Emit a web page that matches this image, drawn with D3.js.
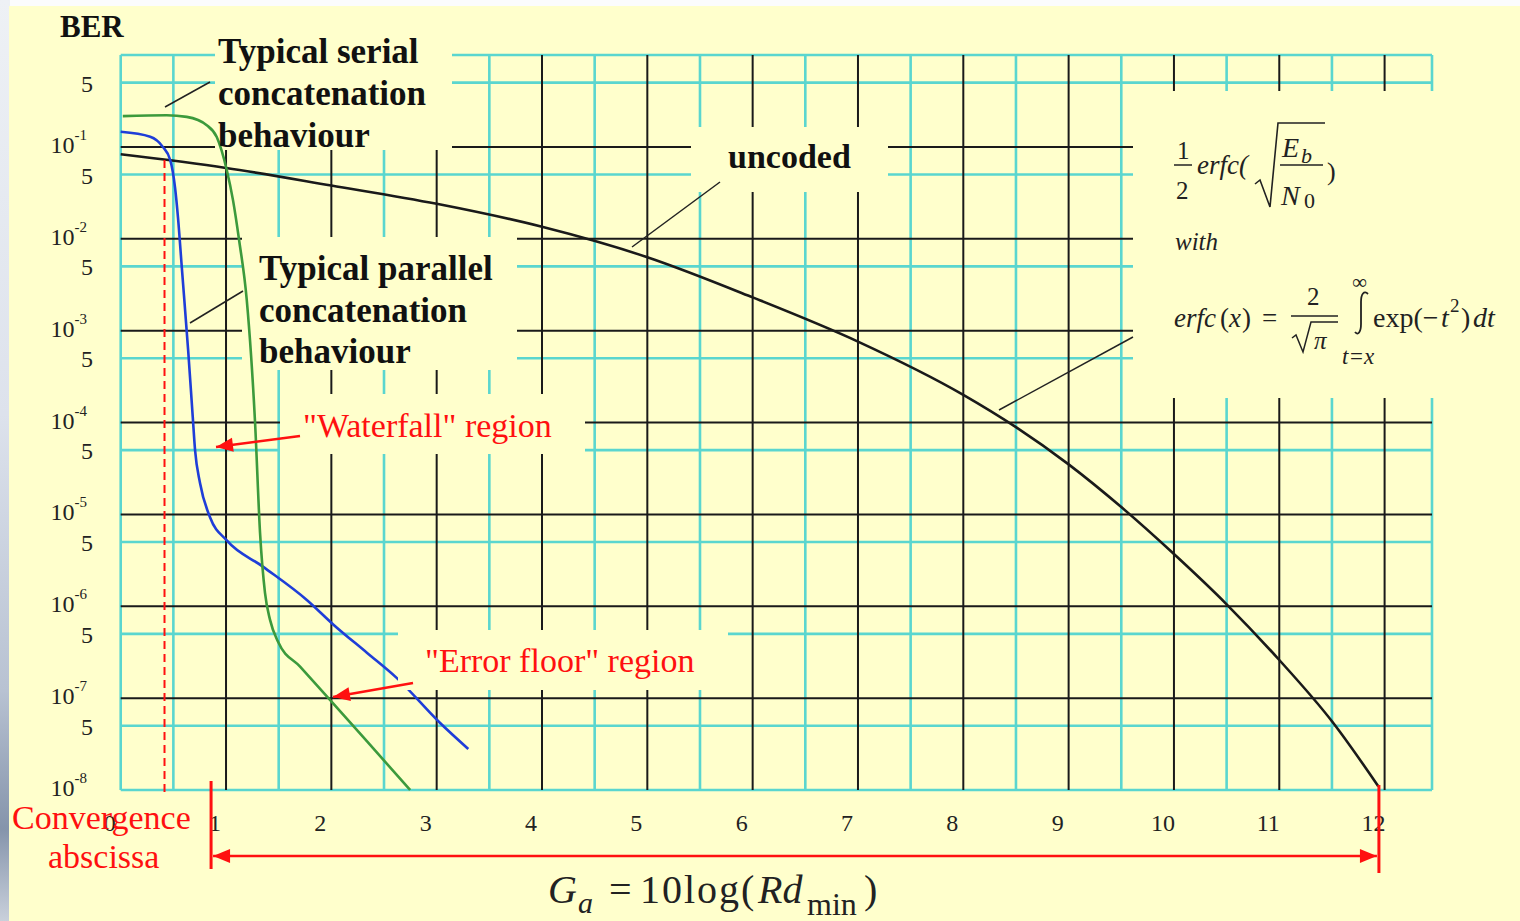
<!DOCTYPE html>
<html lang="en">
<head>
<meta charset="utf-8">
<title>BER concatenated codes</title>
<script src="https://d3js.org/d3.v7.min.js"></script>
<style>
  body { margin: 0; background: #fff; }
  text { font-family: "Liberation Serif", "Times New Roman", serif; }
</style>
</head>
<body>
<script>
// ---- data ----
var xTicks = [0, 1, 2, 3, 4, 5, 6, 7, 8, 9, 10, 11, 12];
var decades = [-8, -7, -6, -5, -4, -3, -2, -1];

var uncodedGa  = [0, 1, 2, 3, 4, 5, 6, 7, 8, 8.5, 9, 9.5, 10, 10.5, 11, 11.5, 11.94];
var uncodedBer = [8.3e-2, 5.9e-2, 3.8e-2, 2.4e-2, 1.35e-2, 6.3e-3, 2.3e-3, 7.6e-4, 2.0e-4, 8.9e-5, 3.5e-5, 1.2e-5, 3.7e-6, 1.05e-6, 2.6e-7, 5.6e-8, 1.1e-8];

var parallelGa  = [0, 0.28, 0.40, 0.47, 0.516, 0.544, 0.58, 0.64, 0.684, 0.706, 0.753, 0.848, 1.007, 1.35, 1.767, 2.02, 2.34, 2.62, 3.03, 3.30];
var parallelBer = [1.46e-1, 1.29e-1, 1.0e-1, 7.2e-2, 3.6e-2, 1.7e-2, 4.9e-3, 6.2e-4, 1.15e-4, 5.0e-5, 2.2e-5, 9.3e-6, 5.2e-6, 2.7e-6, 1.17e-6, 6.3e-7, 3.1e-7, 1.66e-7, 5.4e-8, 2.8e-8];

var serialGa  = [0.02, 0.437, 0.627, 0.817, 0.912, 1.007, 1.067, 1.124, 1.197, 1.276, 1.323, 1.37, 1.418, 1.494, 1.703, 2.004, 2.337, 2.748];
var serialBer = [0.216, 0.221, 0.212, 0.172, 0.128, 5.6e-2, 2.6e-2, 9.7e-3, 2.15e-3, 9.8e-5, 6.3e-6, 1.4e-6, 7.1e-7, 4.1e-7, 2.2e-7, 9.1e-8, 3.4e-8, 1.0e-8];

// annotation abscissae
var convergenceGa = 0.416, convergenceTopBer = 7.2e-2;
var gainStart = 0.858, gainEnd = 11.946;

var width = 1520, height = 921;
var bg = "#ffffcc", cyan = "#5ad6cf", ink = "#1a1a1a", red = "#ff1010";

var svg = d3.select("body").append("svg")
  .attr("width", width)
  .attr("height", height);

var defs = svg.append("defs");
var grad = defs.append("linearGradient").attr("id", "edge")
  .attr("x1", 0).attr("y1", 0).attr("x2", 0).attr("y2", 1);
grad.append("stop").attr("offset", "0%").attr("stop-color", "#eef1f5");
grad.append("stop").attr("offset", "45%").attr("stop-color", "#dde2ec");
grad.append("stop").attr("offset", "75%").attr("stop-color", "#b8c2d2");
grad.append("stop").attr("offset", "90%").attr("stop-color", "#8594ab");
grad.append("stop").attr("offset", "100%").attr("stop-color", "#c9d0db");

svg.append("rect").attr("width", width).attr("height", height).attr("fill", "#fbfcfd");
svg.append("rect").attr("x", 0).attr("y", 0).attr("width", 10).attr("height", height).attr("fill", "url(#edge)");
svg.append("rect").attr("x", 9).attr("y", 6).attr("width", width - 9).attr("height", height - 6).attr("fill", bg);

var x = d3.scaleLinear().domain([0, 12.45]).range([120.7, 1432]);
var y = d3.scaleLog().domain([1e-8, 1]).range([790, 55]);

// ---- grid ----
var grid = svg.append("g");
var cyanX = [0].concat(d3.range(0.5, 12, 1)).concat([12.45]);
var cyanY = [1e-8, 1].concat(decades.map(function(k){ return 5 * Math.pow(10, k); }));

grid.selectAll(".cy").data(cyanY).enter().append("line")
  .attr("x1", x(0)).attr("x2", x(12.45))
  .attr("y1", function(d){ return y(d); }).attr("y2", function(d){ return y(d); })
  .attr("stroke", cyan).attr("stroke-width", 2.6);
grid.selectAll(".cx").data(cyanX).enter().append("line")
  .attr("x1", function(d){ return x(d); }).attr("x2", function(d){ return x(d); })
  .attr("y1", y(1)).attr("y2", y(1e-8))
  .attr("stroke", cyan).attr("stroke-width", 2.6);
grid.selectAll(".by").data(decades.filter(function(k){ return k > -8; })).enter().append("line")
  .attr("x1", x(0)).attr("x2", x(12.45))
  .attr("y1", function(d){ return y(Math.pow(10, d)); }).attr("y2", function(d){ return y(Math.pow(10, d)); })
  .attr("stroke", ink).attr("stroke-width", 2);
grid.selectAll(".bx").data(xTicks.filter(function(v){ return v > 0; })).enter().append("line")
  .attr("x1", function(d){ return x(d); }).attr("x2", function(d){ return x(d); })
  .attr("y1", y(1)).attr("y2", y(1e-8))
  .attr("stroke", ink).attr("stroke-width", 2);

// label backgrounds that cut the grid
var boxes = [
  [215, 6, 237, 144],   // serial
  [242, 237, 275, 133], // parallel
  [691, 127, 197, 65],  // uncoded
  [280, 394, 305, 60],  // waterfall
  [1133, 91, 387, 307]  // formula
];
svg.selectAll(".box").data(boxes).enter().append("rect")
  .attr("x", function(d){ return d[0]; }).attr("y", function(d){ return d[1]; })
  .attr("width", function(d){ return d[2]; }).attr("height", function(d){ return d[3]; })
  .attr("fill", bg);

// ---- axis labels ----
svg.selectAll(".xl").data(xTicks).enter().append("text")
  .attr("x", function(d){ return x(d) - 11; })
  .attr("y", 823)
  .attr("text-anchor", "middle").attr("dominant-baseline", "central")
  .attr("font-size", 24).attr("fill", "#222")
  .text(function(d){ return d; });

svg.selectAll(".y5").data(decades).enter().append("text")
  .attr("x", 93).attr("y", function(d){ return y(5 * Math.pow(10, d)) + 1; })
  .attr("text-anchor", "end").attr("dominant-baseline", "central")
  .attr("font-size", 24).attr("fill", "#222").text("5");

var yl = svg.selectAll(".y10").data(decades).enter().append("text")
  .attr("x", 87).attr("y", function(d){ return y(Math.pow(10, d)) - 2; })
  .attr("text-anchor", "end").attr("dominant-baseline", "central")
  .attr("font-size", 24).attr("fill", "#222");
yl.append("tspan").text("10");
yl.append("tspan").attr("dy", -10).attr("font-size", 15)
  .text(function(d){ return String(d); });

svg.append("text").attr("x", 60).attr("y", 37)
  .attr("font-size", 31).attr("font-weight", "bold").attr("fill", "#111").text("BER");

// ---- curves ----
var line = d3.line()
  .x(function(d){ return x(d[0]); })
  .y(function(d){ return y(d[1]); })
  .curve(d3.curveMonotoneX);

function pairs(a, b){ return a.map(function(v, i){ return [v, b[i]]; }); }

svg.append("path").attr("d", line(pairs(uncodedGa, uncodedBer)))
  .attr("fill", "none").attr("stroke", ink).attr("stroke-width", 2.6);
svg.append("path").attr("d", line(pairs(parallelGa, parallelBer)))
  .attr("fill", "none").attr("stroke", "#1f3ed8").attr("stroke-width", 2.6);
svg.append("path").attr("d", line(pairs(serialGa, serialBer)))
  .attr("fill", "none").attr("stroke", "#3c9a3c").attr("stroke-width", 2.6);

// error floor label background sits over the blue curve
svg.append("rect").attr("x", 398).attr("y", 630).attr("width", 330).attr("height", 60).attr("fill", bg);

// convergence dashed line
svg.append("line")
  .attr("x1", x(convergenceGa)).attr("x2", x(convergenceGa))
  .attr("y1", y(convergenceTopBer)).attr("y2", 797)
  .attr("stroke", red).attr("stroke-width", 2).attr("stroke-dasharray", "8,5");

// ---- leader lines ----
var leaders = [[165, 107, 210, 82], [190, 323, 243, 291], [632, 247, 720, 182], [999, 410, 1133, 337]];
svg.selectAll(".lead").data(leaders).enter().append("line")
  .attr("x1", function(d){ return d[0]; }).attr("y1", function(d){ return d[1]; })
  .attr("x2", function(d){ return d[2]; }).attr("y2", function(d){ return d[3]; })
  .attr("stroke", "#222").attr("stroke-width", 1.5);

// ---- red arrows ----
function arrow(x1, y1, x2, y2){
  svg.append("line").attr("x1", x1).attr("y1", y1).attr("x2", x2).attr("y2", y2)
    .attr("stroke", red).attr("stroke-width", 2.5);
  var a = Math.atan2(y2 - y1, x2 - x1), L = 17, W = 7;
  var bx = x2 - L * Math.cos(a), by = y2 - L * Math.sin(a);
  var p = [[x2, y2],
           [bx + W * Math.sin(a), by - W * Math.cos(a)],
           [bx - W * Math.sin(a), by + W * Math.cos(a)]];
  svg.append("path").attr("d", "M" + p.join("L") + "Z").attr("fill", red);
}
arrow(300, 436, 216, 447);
arrow(413, 683, 333, 697);
arrow((x(gainStart) + x(gainEnd)) / 2, 856, x(gainStart) + 2, 856);
arrow((x(gainStart) + x(gainEnd)) / 2, 856, x(gainEnd) - 2, 856);
svg.append("line").attr("x1", x(gainStart)).attr("x2", x(gainStart)).attr("y1", 781).attr("y2", 869)
  .attr("stroke", red).attr("stroke-width", 3);
svg.append("line").attr("x1", x(gainEnd)).attr("x2", x(gainEnd)).attr("y1", 785).attr("y2", 873)
  .attr("stroke", red).attr("stroke-width", 3);

// ---- annotation texts ----
function lines(tx, baselines, words, opts){
  baselines.forEach(function(b, i){
    svg.append("text").attr("x", tx).attr("y", b)
      .attr("font-size", opts.size).attr("font-weight", opts.weight || "normal")
      .attr("fill", opts.fill).text(words[i]);
  });
}
lines(218, [63, 105, 147], ["Typical serial", "concatenation", "behaviour"], {size: 35, weight: "bold", fill: "#111"});
lines(259, [280, 322, 363], ["Typical parallel", "concatenation", "behaviour"], {size: 35, weight: "bold", fill: "#111"});
lines(728, [168], ["uncoded"], {size: 34, weight: "bold", fill: "#111"});
lines(303, [437], ["\"Waterfall\" region"], {size: 34, fill: red});
lines(425, [672], ["\"Error floor\" region"], {size: 34, fill: red});
lines(12, [829], ["Convergence"], {size: 34, fill: red});
lines(48, [868], ["abscissa"], {size: 34, fill: red});

// ---- formula block ----
var f = svg.append("g").attr("fill", "#222");
function t(tx, ty, s, size, italic){
  return f.append("text").attr("x", tx).attr("y", ty).attr("font-size", size)
    .attr("font-style", italic ? "italic" : "normal").text(s);
}
function rule(x1, y1, x2, y2, w){
  f.append("line").attr("x1", x1).attr("y1", y1).attr("x2", x2).attr("y2", y2)
    .attr("stroke", "#222").attr("stroke-width", w || 1.5);
}
t(1177, 159, "1", 25, false);
rule(1174, 165, 1192, 165);
t(1176, 199, "2", 25, false);
t(1197, 174, "erfc(", 27, true);
f.append("path").attr("d", "M1255,184 L1260,180 L1270,207 L1278,123 L1325,123")
  .attr("fill", "none").attr("stroke", "#222").attr("stroke-width", 1.6);
t(1282, 157, "E", 28, true);
t(1301, 163, "b", 22, true);
rule(1280, 165, 1323, 165);
t(1281, 205, "N", 28, true);
t(1304, 208, "0", 22, false);
t(1327, 180, ")", 26, false);
t(1175, 250, "with", 25, true);

t(1174, 327, "erfc", 27, true);
t(1220, 327, "(", 27, false);
t(1229, 327, "x", 27, true);
t(1242, 327, ")", 27, false);
t(1262, 327, "=", 27, false);
t(1307, 305, "2", 25, false);
rule(1291, 316, 1338, 316);
f.append("path").attr("d", "M1292,338 L1296,335 L1303,352 L1311,322 L1338,322")
  .attr("fill", "none").attr("stroke", "#222").attr("stroke-width", 1.5);
t(1314, 349, "\u03c0", 25, true);
t(1352, 289, "\u221e", 21, false);
f.append("path").attr("d", "M1368,294 C1364,290 1361,294 1361,302 L1361,324 C1361,332 1358,336 1355,332")
  .attr("fill", "none").attr("stroke", "#222").attr("stroke-width", 1.8);
t(1373, 327, "exp(\u2212", 28, false);
t(1441, 327, "t", 28, true);
t(1450, 312, "2", 19, false);
t(1461, 327, ")", 28, false);
t(1473, 327, "dt", 28, true);
t(1342, 364, "t=x", 23, true);

// ---- x axis title ----
var g2 = svg.append("g").attr("fill", "#222");
g2.append("text").attr("x", 548).attr("y", 903).attr("font-size", 40).attr("font-style", "italic").text("G");
g2.append("text").attr("x", 578).attr("y", 913).attr("font-size", 30).attr("font-style", "italic").text("a");
g2.append("text").attr("x", 609).attr("y", 903).attr("font-size", 40).text("=");
g2.append("text").attr("x", 640).attr("y", 903).attr("font-size", 40).attr("letter-spacing", 2).text("10log(");
g2.append("text").attr("x", 758).attr("y", 903).attr("font-size", 40).attr("font-style", "italic").text("Rd");
g2.append("text").attr("x", 807).attr("y", 915).attr("font-size", 32).text("min");
g2.append("text").attr("x", 864).attr("y", 903).attr("font-size", 40).text(")");
</script>
</body>
</html>
